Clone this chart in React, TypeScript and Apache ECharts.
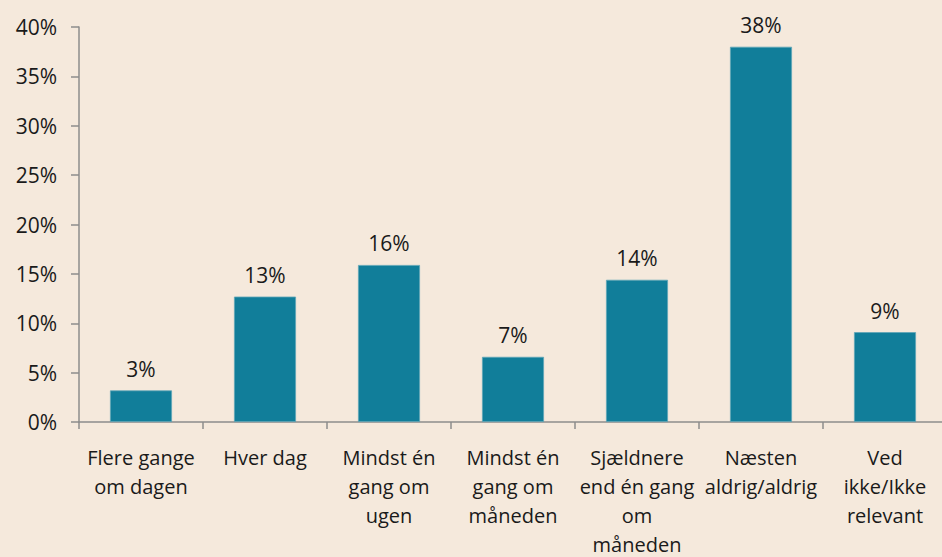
import React, { useEffect, useRef } from "react";
import * as echarts from "echarts";

const categories = [
  "Flere gange\nom dagen",
  "Hver dag",
  "Mindst én\ngang om\nugen",
  "Mindst én\ngang om\nmåneden",
  "Sjældnere\nend én gang\nom\nmåneden",
  "Næsten\naldrig/aldrig",
  "Ved\nikke/Ikke\nrelevant",
];
const values = [3.2, 12.7, 15.9, 6.6, 14.4, 38.0, 9.1];
const yMin = 0;
const yMax = 40;
const yStep = 5;

const FONT = "'Open Sans', 'Noto Sans', sans-serif";

export default function App() {
  const ref = useRef<HTMLDivElement>(null);
  useEffect(() => {
    document.body.style.margin = "0";
    if (!ref.current) return;
    const chart = echarts.init(ref.current, undefined, { renderer: "svg" });
    chart.setOption({
      animation: false,
      backgroundColor: "#F5E9DC",
      grid: { left: 79, top: 27, width: 868, height: 395, containLabel: false, outerBoundsMode: "none" },
      xAxis: {
        type: "category",
        data: categories,
        axisLine: { show: true, lineStyle: { color: "#8c8c8c", width: 1.5 } },
        axisTick: { show: true, alignWithLabel: false, length: 7, lineStyle: { color: "#8c8c8c", width: 1.5 } },
        axisLabel: {
          interval: 0,
          margin: 21,
          color: "#1a1a1a",
          fontFamily: FONT,
          fontSize: 20,
          lineHeight: 29,
          verticalAlign: "top",
        },
      },
      yAxis: {
        type: "value",
        min: yMin,
        max: yMax,
        interval: yStep,
        splitLine: { show: false },
        axisLine: { show: true, lineStyle: { color: "#8c8c8c", width: 1.5 } },
        axisTick: { show: true, length: 8, lineStyle: { color: "#8c8c8c", width: 1.5 } },
        axisLabel: {
          margin: 22,
          color: "#1a1a1a",
          fontFamily: FONT,
          fontSize: 21,
          formatter: (v: number) => `${v}%`,
        },
      },
      series: [
        {
          type: "bar",
          data: values,
          barCategoryGap: "50%",
          itemStyle: { color: "#117E9A", borderColor: "#5fa6b8", borderWidth: 0.8 },
          label: {
            show: true,
            position: "top",
            distance: 11,
            color: "#1a1a1a",
            fontFamily: FONT,
            fontSize: 21,
            formatter: (p: any) => `${Math.round(p.value)}%`,
          },
        },
      ],
    });
    return () => chart.dispose();
  }, []);
  return <div ref={ref} style={{ width: 942, height: 557 }} />;
}
